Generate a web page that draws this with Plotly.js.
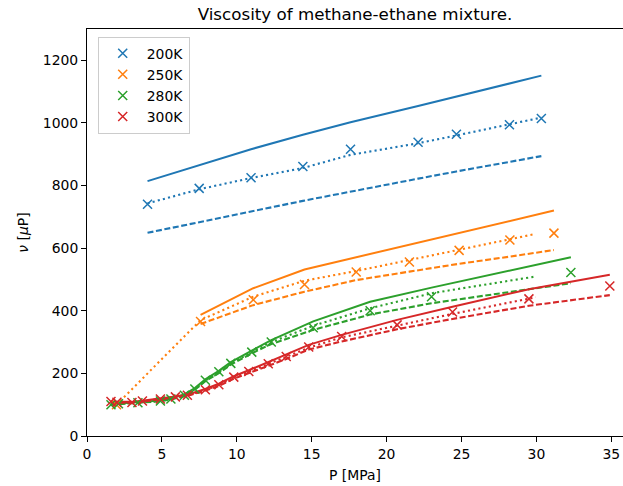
<!DOCTYPE html>
<html>
<head>
<meta charset="utf-8">
<script src="https://cdn.plot.ly/plotly-3.0.1.min.js"></script>
<style>
html,body{margin:0;padding:0;background:#fff;}
#chart{width:623px;height:486px;}
</style>
</head>
<body>
<div id="chart"></div>
<script>
// ---- Data ----
const labels = ["200K", "250K", "280K", "300K"];
const colors = ["#1f77b4", "#ff7f0e", "#2ca02c", "#d62728"];

// 200 K
const P_exp_200 = [4.04, 7.49, 10.95, 14.41, 17.59, 22.10, 24.66, 28.20, 30.33];
const mu_exp_200 = [740, 791, 825, 861, 916, 938, 964, 994, 1014];
const P_solid_200 = [4.04, 7.49, 10.95, 14.41, 17.59, 22.10, 24.66, 28.20, 30.33];
const mu_solid_200 = [814, 866, 916, 962, 1002, 1054, 1084, 1126, 1151];
const P_dash_200 = [4.04, 7.49, 10.95, 14.41, 17.59, 22.10, 24.66, 28.20, 30.33];
const mu_dash_200 = [649, 684, 717, 751, 781, 822, 845, 875, 894];
const P_dot_200 = [4.04, 7.49, 10.95, 14.41, 17.59, 22.10, 24.66, 28.20, 30.33];
const mu_dot_200 = [743, 788, 824, 856, 898, 935, 960, 997, 1017];

// 250 K
const P_exp_250 = [1.97, 7.58, 11.10, 14.52, 17.97, 21.52, 24.84, 28.23, 31.17];
const mu_exp_250 = [100, 366, 435, 484, 524, 556, 593, 626, 648];
const P_solid_250 = [7.58, 11.10, 14.52, 17.97, 21.52, 24.84, 28.23, 31.17];
const mu_solid_250 = [387, 472, 532, 571, 610, 647, 685, 720];
const P_dash_250 = [7.58, 11.10, 14.52, 17.97, 21.52, 24.84, 28.23, 31.17];
const mu_dash_250 = [358, 418, 461, 498, 525, 550, 573, 594];
const P_dot_250 = [1.97, 7.58, 11.10, 14.52, 17.97, 21.52, 24.84, 28.23, 29.90];
const mu_dot_250 = [100, 370, 445, 496, 527, 562, 596, 628, 645];

// 280 K
const P_exp_280 = [1.6, 2.1, 3.4, 4.9, 5.6, 6.5, 7.2, 7.9, 8.8, 9.6, 11.0, 12.3, 15.1, 18.9, 23.0, 32.3];
const mu_exp_280 = [100, 103, 106, 112, 118, 130, 150, 178, 205, 232, 268, 300, 346, 400, 445, 522];
const P_solid_280 = [1.6, 2.1, 3.4, 4.9, 5.6, 6.5, 7.2, 7.9, 8.8, 9.6, 11.0, 12.3, 15.1, 18.9, 23.0, 32.3];
const mu_solid_280 = [102, 104, 107, 113, 120, 133, 153, 181, 208, 236, 273, 306, 366, 429, 474, 571];
const P_dash_280 = [1.6, 2.1, 3.4, 4.9, 5.6, 6.5, 7.2, 7.9, 8.8, 9.6, 11.0, 12.3, 15.1, 18.9, 23.0, 32.3];
const mu_dash_280 = [100, 102, 105, 111, 117, 128, 148, 175, 201, 228, 264, 294, 339, 388, 424, 488];
const P_dot_280 = [1.6, 2.1, 3.4, 4.9, 5.6, 6.5, 7.2, 7.9, 8.8, 9.6, 11.0, 12.3, 15.1, 18.9, 23.0, 29.9];
const mu_dot_280 = [101, 103, 106, 112, 118, 130, 150, 177, 204, 232, 268, 300, 352, 408, 456, 509];

// 300 K
const P_exp_300 = [1.6, 2.0, 3.0, 3.7, 4.9, 5.9, 6.7, 7.9, 8.8, 9.8, 10.8, 12.1, 13.3, 14.8, 17.0, 20.7, 24.4, 29.5, 34.9];
const mu_exp_300 = [110, 108, 107, 112, 118, 125, 130, 148, 164, 188, 206, 231, 254, 284, 318, 355, 396, 438, 479];
const P_solid_300 = [1.6, 2.0, 3.0, 3.7, 4.9, 5.9, 6.7, 7.9, 8.8, 9.8, 10.8, 12.1, 13.3, 14.8, 17.0, 20.7, 24.4, 29.5, 34.9];
const mu_solid_300 = [110, 109, 109, 113, 119, 126, 132, 150, 167, 191, 210, 236, 260, 291, 323, 371, 413, 469, 515];
const P_dash_300 = [1.6, 2.0, 3.0, 3.7, 4.9, 5.9, 6.7, 7.9, 8.8, 9.8, 10.8, 12.1, 13.3, 14.8, 17.0, 20.7, 24.4, 29.5, 34.9];
const mu_dash_300 = [109, 107, 106, 110, 116, 123, 128, 145, 160, 183, 200, 224, 246, 276, 302, 341, 374, 416, 450];
const P_dot_300 = [1.6, 2.0, 3.0, 3.7, 4.9, 5.9, 6.7, 7.9, 8.8, 9.8, 10.8, 12.1, 13.3, 14.8, 17.0, 20.7, 24.4, 29.95];
const mu_dot_300 = [110, 108, 107, 112, 118, 125, 130, 147, 163, 187, 205, 230, 253, 282, 315, 352, 390, 443];

const xTicks = [0, 5, 10, 15, 20, 25, 30, 35];
const yTicks = [0, 200, 400, 600, 800, 1000, 1200];

// ---- Build traces ----
const series = [
  {exp: [P_exp_200, mu_exp_200], solid: [P_solid_200, mu_solid_200], dash: [P_dash_200, mu_dash_200], dot: [P_dot_200, mu_dot_200]},
  {exp: [P_exp_250, mu_exp_250], solid: [P_solid_250, mu_solid_250], dash: [P_dash_250, mu_dash_250], dot: [P_dot_250, mu_dot_250]},
  {exp: [P_exp_280, mu_exp_280], solid: [P_solid_280, mu_solid_280], dash: [P_dash_280, mu_dash_280], dot: [P_dot_280, mu_dot_280]},
  {exp: [P_exp_300, mu_exp_300], solid: [P_solid_300, mu_solid_300], dash: [P_dash_300, mu_dash_300], dot: [P_dot_300, mu_dot_300]}
];

const traces = [];
series.forEach((s, i) => {
  const c = colors[i];
  traces.push({x: s.solid[0], y: s.solid[1], mode: 'lines', showlegend: false, hoverinfo: 'skip',
    line: {color: c, width: 2}});
  traces.push({x: s.dash[0], y: s.dash[1], mode: 'lines', showlegend: false, hoverinfo: 'skip',
    line: {color: c, width: 2.1, dash: '6px,2.6px'}});
  traces.push({x: s.dot[0], y: s.dot[1], mode: 'lines', showlegend: false, hoverinfo: 'skip',
    line: {color: c, width: 2.1, dash: '2.1px,3.2px'}});
});
series.forEach((s, i) => {
  const c = colors[i];
  traces.push({x: s.exp[0], y: s.exp[1], mode: 'markers', name: labels[i],
    marker: {symbol: 'x-thin', size: 9, color: c, line: {color: c, width: 1.5}}});
});

const fontFam = 'DejaVu Sans, sans-serif';
const layout = {
  width: 623, height: 486,
  margin: {l: 87, r: 0, t: 29, b: 50},
  paper_bgcolor: '#fff', plot_bgcolor: '#fff',
  font: {family: fontFam, size: 13.9, color: '#000'},
  title: {text: 'Viscosity of methane-ethane mixture.', font: {family: fontFam, size: 16.7, color: '#000'},
    x: 0.5, xref: 'paper', xanchor: 'center', y: 1 - 14/486, yref: 'container', yanchor: 'middle'},
  xaxis: {range: [0, 35.78], tickvals: xTicks, ticktext: xTicks.map(String),
    showgrid: false, zeroline: false, showline: true, mirror: true, linecolor: '#000', linewidth: 1,
    ticks: 'outside', ticklen: 5, tickwidth: 1, tickcolor: '#000',
    title: {text: 'P [MPa]', font: {family: fontFam, size: 13.9, color: '#000'}, standoff: 9}},
  yaxis: {range: [0, 1300], tickvals: yTicks, ticktext: yTicks.map(String),
    showgrid: false, zeroline: false, showline: true, mirror: false, linecolor: '#000', linewidth: 1,
    ticks: 'outside', ticklen: 5, tickwidth: 1, tickcolor: '#000',
    title: {text: '<i>ν</i> [<i>μ</i>P]', font: {family: fontFam, size: 13.9, color: '#000'}, standoff: 10}},
  legend: {x: 0.02, y: 0.981, xanchor: 'left', yanchor: 'top', bgcolor: 'rgba(255,255,255,0.8)',
    bordercolor: '#cccccc', borderwidth: 1, font: {family: fontFam, size: 13.9, color: '#000'},
    tracegroupgap: 0, itemwidth: 38},
  showlegend: true
};

Plotly.newPlot('chart', traces, layout, {displayModeBar: false, staticPlot: true});
</script>
</body>
</html>
